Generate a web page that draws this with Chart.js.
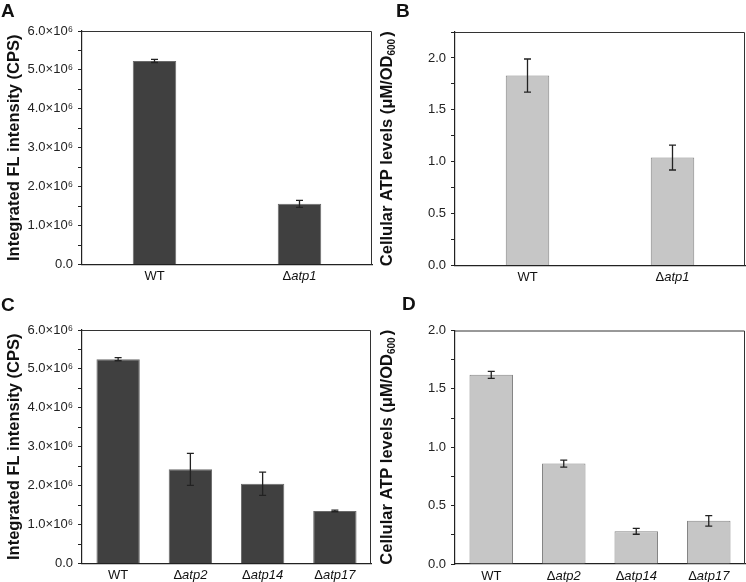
<!DOCTYPE html>
<html>
<head>
<meta charset="utf-8">
<script src="https://cdn.jsdelivr.net/npm/chart.js@4.4.0/dist/chart.umd.min.js"></script>
<style>
  body { margin: 0; background: #fff; }
  #wrap { position: relative; width: 746px; height: 582px; font-family: "Liberation Sans", Arial, sans-serif; }
  .panel { position: absolute; width: 373px; height: 291px; }
  .letter { position: absolute; font-weight: bold; font-size: 19px; color: #111; }
</style>
</head>
<body>
<div id="wrap">
  <div class="panel" style="left:0;top:0"><canvas id="chartA" width="373" height="291"></canvas></div>
  <div class="panel" style="left:373px;top:0"><canvas id="chartB" width="373" height="291"></canvas></div>
  <div class="panel" style="left:0;top:291px"><canvas id="chartC" width="373" height="291"></canvas></div>
  <div class="panel" style="left:373px;top:291px"><canvas id="chartD" width="373" height="291"></canvas></div>
  <div class="letter" style="left:1px;top:0px">A</div>
  <div class="letter" style="left:396px;top:0px">B</div>
  <div class="letter" style="left:1px;top:294px">C</div>
  <div class="letter" style="left:402px;top:293px">D</div>
</div>
<script>
// data
const strainsTop = ["WT", "Δatp1"];
const strainsBottom = ["WT", "Δatp2", "Δatp14", "Δatp17"];

const flTop = [5.23e6, 1.56e6];
const flTopErr = [0.04e6, 0.09e6];
const atpTop = [1.83, 1.04];
const atpTopErr = [0.16, 0.12];

const flBottom = [5.25e6, 2.42e6, 2.05e6, 1.35e6];
const flBottomErr = [0.04e6, 0.41e6, 0.3e6, 0.02e6];
const atpBottom = [1.62, 0.86, 0.28, 0.37];
const atpBottomErr = [0.03, 0.03, 0.025, 0.045];

// title pieces: [main text, subscript, closing text]
const flTitle = ["Integrated FL intensity (CPS)", "", ""];
const atpTitle = ["Cellular ATP levels (μM/OD", "600", ")"];

const darkFill = "#404040";
const darkEdge = "#6a6a6a";
const lightFill = "#c6c6c6";
const lightEdge = "#858585";

const FONT = "'Liberation Sans', Arial, sans-serif";

function flTick(v) {
  const m = Math.round(v / 1e5);
  if (m % 10 !== 0) return "";
  if (m === 0) return "0.0";
  return (m / 10).toFixed(1) + "×10⁶";
}

function atpTick(v) {
  const m = Math.round(v * 100);
  if (m % 50 !== 0) return "";
  return (m / 100).toFixed(1);
}

const errorBars = {
  id: "errorBars",
  afterDatasetsDraw(chart, args, opts) {
    const ctx = chart.ctx;
    const y = chart.scales.y;
    const meta = chart.getDatasetMeta(0);
    const vals = chart.data.datasets[0].data;
    ctx.save();
    ctx.strokeStyle = "#222";
    ctx.lineWidth = 1.3;
    meta.data.forEach((bar, i) => {
      const e = opts.errors[i];
      const top = y.getPixelForValue(vals[i] + e);
      const bot = y.getPixelForValue(vals[i] - e);
      ctx.beginPath();
      ctx.moveTo(bar.x, top);
      ctx.lineTo(bar.x, bot);
      ctx.moveTo(bar.x - 3.5, top);
      ctx.lineTo(bar.x + 3.5, top);
      ctx.moveTo(bar.x - 3.5, bot);
      ctx.lineTo(bar.x + 3.5, bot);
      ctx.stroke();
    });
    ctx.restore();
  },
};

const frame = {
  id: "frame",
  afterDraw(chart, args, opts) {
    const a = chart.chartArea;
    const ctx = chart.ctx;
    ctx.save();
    ctx.strokeStyle = "#333";
    ctx.lineWidth = 1;
    ctx.beginPath();
    ctx.moveTo(a.left, a.top + 0.5);
    ctx.lineTo(a.right - 0.5, a.top + 0.5);
    ctx.lineTo(a.right - 0.5, a.bottom);
    ctx.stroke();

    // category labels: delta upright, gene name italic
    const x = chart.scales.x;
    ctx.fillStyle = "#111";
    ctx.textBaseline = "middle";
    chart.data.labels.forEach((lab, i) => {
      const cx = x.getPixelForTick(i);
      const cy = x.top + 12;
      if (lab.startsWith("Δ")) {
        ctx.font = "13px " + FONT;
        const dW = ctx.measureText("Δ").width;
        ctx.font = "italic 13px " + FONT;
        const rest = lab.slice(1);
        const rW = ctx.measureText(rest).width;
        const x0 = cx - (dW + rW) / 2;
        ctx.textAlign = "left";
        ctx.font = "13px " + FONT;
        ctx.fillText("Δ", x0, cy);
        ctx.font = "italic 13px " + FONT;
        ctx.fillText(rest, x0 + dW, cy);
      } else {
        ctx.textAlign = "center";
        ctx.font = "13px " + FONT;
        ctx.fillText(lab, cx, cy);
      }
    });

    // y axis title, rotated, with optional subscript
    const [main, sub, tail] = opts.title;
    const big = "bold 16.5px " + FONT;
    const small = "bold 10px " + FONT;
    ctx.font = big;
    const w1 = ctx.measureText(main).width;
    const w3 = ctx.measureText(tail).width;
    ctx.font = small;
    const w2 = sub ? ctx.measureText(sub).width + 2 : 0;
    const total = w1 + w2 + w3;
    ctx.translate(19, (a.top + a.bottom) / 2);
    ctx.rotate(-Math.PI / 2);
    ctx.textAlign = "left";
    ctx.textBaseline = "alphabetic";
    let px = -total / 2;
    ctx.font = big;
    ctx.fillText(main, px, 0);
    px += w1;
    if (sub) {
      ctx.font = small;
      ctx.fillText(sub, px, 3);
      px += w2;
      ctx.font = big;
      ctx.fillText(tail, px, 0);
    }
    ctx.restore();
  },
};

function makeChart(id, opt) {
  return new Chart(document.getElementById(id), {
    type: "bar",
    data: {
      labels: opt.labels,
      datasets: [
        {
          data: opt.values,
          backgroundColor: opt.fill,
          borderColor: opt.edge,
          borderWidth: 1,
          barPercentage: opt.barPct,
          categoryPercentage: 1,
        },
      ],
    },
    options: {
      responsive: false,
      animation: false,
      layout: { padding: { top: opt.top, right: opt.right, left: 0, bottom: 0 } },
      plugins: {
        legend: { display: false },
        tooltip: { enabled: false },
        errorBars: { errors: opt.errors },
        frame: { title: opt.title },
      },
      scales: {
        x: {
          offset: true,
          grid: { display: false },
          border: { color: "#222", width: 1.2 },
          ticks: { display: false },
          afterFit(s) { s.height = opt.bottomH; },
        },
        y: {
          min: 0,
          max: opt.max,
          ticks: {
            stepSize: opt.step,
            autoSkip: false,
            callback: opt.tick,
            color: "#222",
            padding: 5,
            font: { family: FONT, size: 13 },
          },
          grid: {
            drawOnChartArea: false,
            drawTicks: true,
            tickLength: 4,
            tickColor: "#222",
          },
          border: { color: "#222", width: 1.2 },
          title: { display: false },
          afterFit(s) { s.width = 82; },
        },
      },
    },
    plugins: [errorBars, frame],
  });
}

makeChart("chartA", {
  labels: strainsTop, values: flTop, errors: flTopErr,
  fill: darkFill, edge: darkEdge, barPct: 0.3,
  max: 6e6, step: 0.5e6, tick: flTick, title: flTitle,
  top: 31, right: 1, bottomH: 26.5,
});
makeChart("chartB", {
  labels: strainsTop, values: atpTop, errors: atpTopErr,
  fill: lightFill, edge: lightEdge, barPct: 0.3,
  max: 2.25, step: 0.25, tick: atpTick, title: atpTitle,
  top: 32, right: 1, bottomH: 25.5,
});
makeChart("chartC", {
  labels: strainsBottom, values: flBottom, errors: flBottomErr,
  fill: darkFill, edge: darkEdge, barPct: 0.6,
  max: 6e6, step: 0.5e6, tick: flTick, title: flTitle,
  top: 39, right: 2, bottomH: 18.5,
});
makeChart("chartD", {
  labels: strainsBottom, values: atpBottom, errors: atpBottomErr,
  fill: lightFill, edge: lightEdge, barPct: 0.6,
  max: 2.0, step: 0.25, tick: atpTick, title: atpTitle,
  top: 39.5, right: 1, bottomH: 18,
});
</script>
</body>
</html>
